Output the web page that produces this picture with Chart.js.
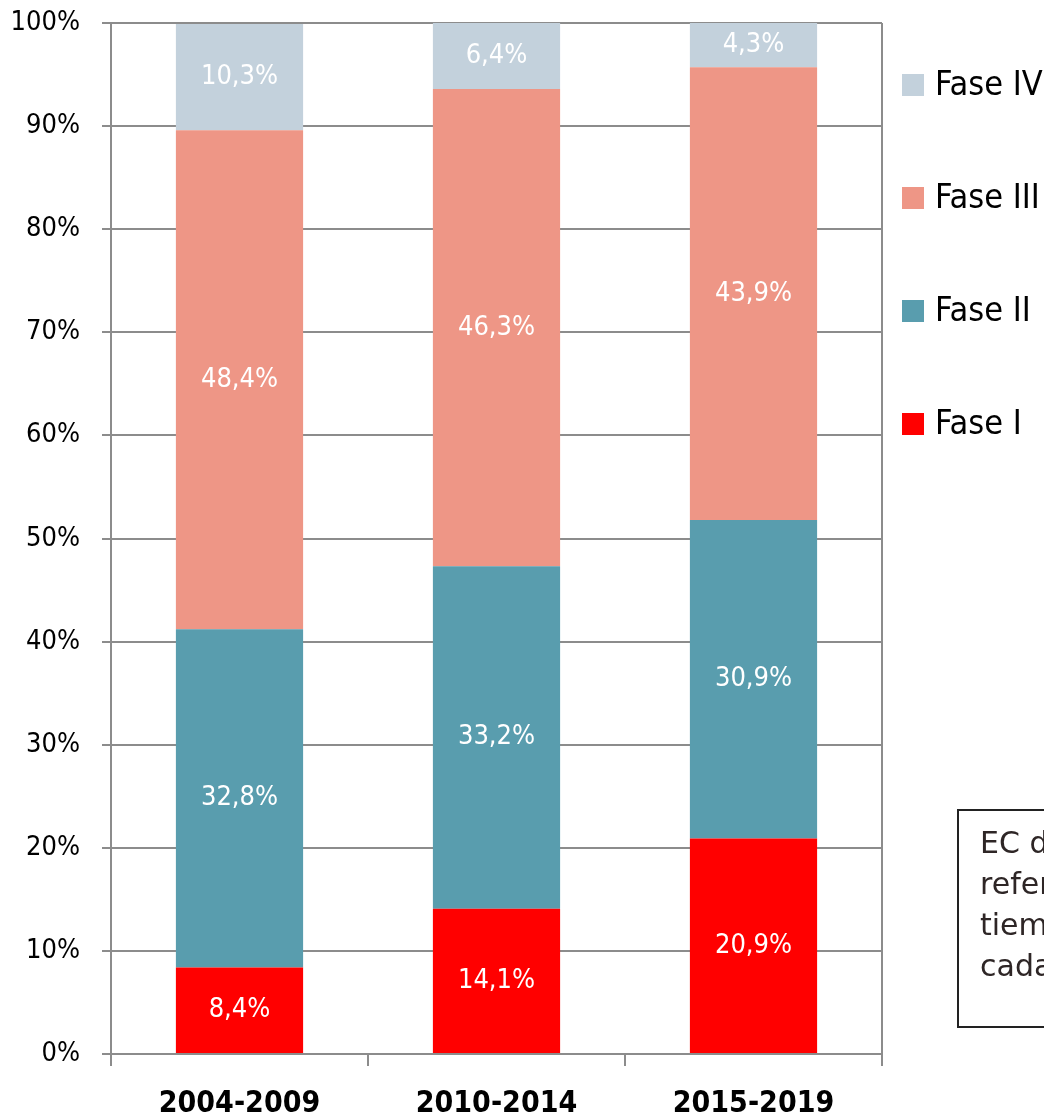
<!DOCTYPE html>
<html>
<head>
<meta charset="utf-8">
<script src="https://cdn.jsdelivr.net/npm/chart.js@4/dist/chart.umd.min.js"></script>
<style>
  html, body { margin: 0; padding: 0; background: #fff; }
  #fases { display: block; }
</style>
</head>
<body>
<canvas id="fases" width="1044" height="1117"></canvas>
<script>
const periodos = ['2004-2009', '2010-2014', '2015-2019'];
const faseI = [8.4, 14.1, 20.9];
const faseII = [32.8, 33.2, 30.9];
const faseIII = [48.4, 46.3, 43.9];
const faseIV = [10.3, 6.4, 4.3];
const yTicks = [0, 10, 20, 30, 40, 50, 60, 70, 80, 90, 100];
const notaLineas = ['EC de', 'referencia', 'tiempo', 'cada'];

const FONT = '"DejaVu Sans Condensed", "DejaVu Sans", sans-serif';
const GRIS = '#8c8c8c';

const pct = v => v.toFixed(1).replace('.', ',') + '%';

// white value labels centred in every segment
const etiquetas = {
  id: 'etiquetas',
  afterDatasetsDraw(chart) {
    const ctx = chart.ctx;
    ctx.save();
    ctx.font = '27px ' + FONT;
    ctx.fillStyle = '#ffffff';
    ctx.textAlign = 'center';
    ctx.textBaseline = 'middle';
    chart.data.datasets.forEach((ds, i) => {
      chart.getDatasetMeta(i).data.forEach((bar, j) => {
        ctx.fillText(pct(ds.data[j]), bar.x, (bar.y + bar.base) / 2);
      });
    });
    ctx.restore();
  }
};

// right border of the plot, legend and note box
const extras = {
  id: 'extras',
  afterDraw(chart) {
    const ctx = chart.ctx;
    const a = chart.chartArea;
    ctx.save();
    ctx.strokeStyle = GRIS;
    ctx.lineWidth = 2;
    ctx.beginPath();
    ctx.moveTo(a.right, a.top);
    ctx.lineTo(a.right, a.bottom);
    ctx.stroke();

    ctx.font = '34px ' + FONT;
    ctx.textBaseline = 'middle';
    ctx.textAlign = 'left';
    const ds = chart.data.datasets.slice().reverse();
    ds.forEach((d, k) => {
      const cy = 85 + k * 113;
      ctx.fillStyle = d.backgroundColor;
      ctx.fillRect(902, cy - 11, 22, 22);
      ctx.fillStyle = '#000';
      ctx.fillText(d.label, 935, cy + 1);
    });

    ctx.strokeStyle = '#222';
    ctx.lineWidth = 2;
    ctx.strokeRect(958, 810, 200, 217);
    ctx.font = '30px "DejaVu Sans", sans-serif';
    ctx.fillStyle = '#2e2626';
    notaLineas.forEach((t, k) => ctx.fillText(t, 980, 845 + k * 41));
    ctx.restore();
  }
};

new Chart(document.getElementById('fases'), {
  type: 'bar',
  data: {
    labels: periodos,
    datasets: [
      { label: 'Fase I', data: faseI, backgroundColor: '#ff0000' },
      { label: 'Fase II', data: faseII, backgroundColor: '#599dae' },
      { label: 'Fase III', data: faseIII, backgroundColor: '#ee9686' },
      { label: 'Fase IV', data: faseIV, backgroundColor: '#c3d1dc' }
    ]
  },
  options: {
    responsive: false,
    animation: false,
    layout: { padding: { top: 23, right: 162, bottom: 0, left: 0 } },
    datasets: { bar: { categoryPercentage: 1, barPercentage: 0.495 } },
    plugins: { legend: { display: false }, tooltip: { enabled: false } },
    scales: {
      x: {
        stacked: true,
        afterFit: s => { s.height = 63; s.paddingLeft = 0; s.paddingRight = 0; },
        grid: { offset: true, drawOnChartArea: false, color: GRIS, lineWidth: 2, tickLength: 12 },
        border: { color: GRIS, width: 2 },
        ticks: { color: '#000', padding: 20, font: { family: FONT, size: 30, weight: 'bold' } }
      },
      y: {
        stacked: true,
        min: 0,
        max: 100,
        afterFit: s => { s.width = 111; s.paddingTop = 0; s.paddingBottom = 0; },
        afterBuildTicks: s => { s.ticks = yTicks.map(v => ({ value: v })); },
        grid: { color: GRIS, lineWidth: 2, tickLength: 9 },
        border: { color: GRIS, width: 2 },
        ticks: { color: '#000', padding: 22, callback: v => v + '%', font: { family: FONT, size: 27 } }
      }
    }
  },
  plugins: [etiquetas, extras]
});
</script>
</body>
</html>
